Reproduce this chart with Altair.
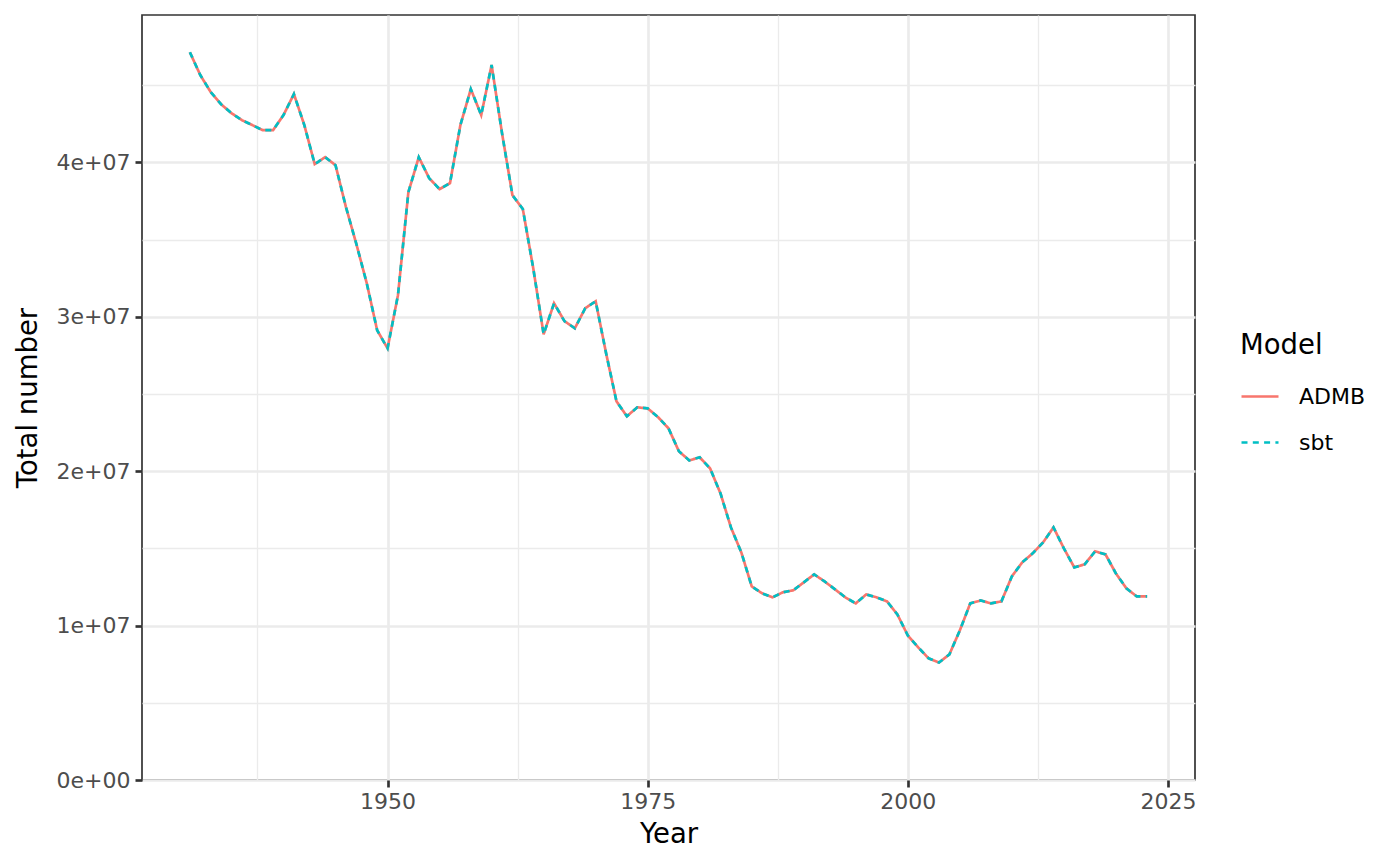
import altair as alt
import pandas as pd

years = list(range(1931, 2024))
# Total number (millions)
admb_millions = [
    47.14, 45.66, 44.56, 43.77, 43.19, 42.74, 42.42, 42.09, 42.09, 43.07,  # 1931-1940
    44.43, 42.42, 39.89, 40.34, 39.82, 37.11, 34.72, 32.18, 29.13, 27.96,  # 1941-1950
    31.40, 38.07, 40.34, 38.98, 38.27, 38.66, 42.42, 44.75, 43.07, 46.31,  # 1951-1960
    41.90, 37.88, 36.98, 33.15, 28.87, 30.88, 29.72, 29.26, 30.56, 31.01,  # 1961-1970
    27.65, 24.53, 23.56, 24.14, 24.07, 23.50, 22.78, 21.29, 20.70, 20.90,  # 1971-1980
    20.18, 18.56, 16.36, 14.74, 12.54, 12.09, 11.83, 12.16, 12.29, 12.80,  # 1981-1990
    13.32, 12.86, 12.35, 11.83, 11.44, 12.02, 11.83, 11.57, 10.72, 9.36,   # 1991-2000
    8.59, 7.88, 7.61, 8.14, 9.69, 11.44, 11.63, 11.44, 11.57, 13.19,       # 2001-2010
    14.10, 14.68, 15.39, 16.36, 15.00, 13.77, 13.97, 14.81, 14.61, 13.38,  # 2011-2020
    12.42, 11.89, 11.89,                                                   # 2021-2023
]
sbt_millions = admb_millions  # the two models coincide in the picture

models = ["ADMB", "sbt"]
colors = ["#F8766D", "#00BFC4"]
dashes = [[1, 0], [6, 5.3]]

x_ticks = [1937.5, 1950, 1962.5, 1975, 1987.5, 2000, 2012.5, 2025]
y_ticks = [0, 5e6, 1e7, 1.5e7, 2e7, 2.5e7, 3e7, 3.5e7, 4e7, 4.5e7]

rows = []
for m, series in zip(models, [admb_millions, sbt_millions]):
    for yr, v in zip(years, series):
        rows.append({"Year": yr, "Total": v * 1e6, "Model": m})
df = pd.DataFrame(rows)

FONT = "DejaVu Sans"

x_axis = alt.Axis(
    values=x_ticks,
    labelExpr="datum.value % 25 === 0 ? format(datum.value, 'd') : ''",
    grid=True,
    gridColor="#EBEBEB",
    gridWidth={"condition": {"test": "datum.value % 25 !== 0", "value": 1.33}, "value": 2.67},
    tickOpacity={"condition": {"test": "datum.value % 25 !== 0", "value": 0}, "value": 1},
    domain=False,
    ticks=True,
    tickColor="#333333",
    tickWidth=2.67,
    tickSize=7,
    labelFont=FONT,
    labelFontSize=22,
    labelColor="#4D4D4D",
    labelPadding=4,
    labelFlush=False,
    title="Year",
    titleFont=FONT,
    titleFontSize=27.5,
    titleFontWeight="normal",
    titleColor="#000000",
    titlePadding=8,
)

y_axis = alt.Axis(
    values=y_ticks,
    labelExpr="datum.value % 10000000 === 0 ? replace(format(datum.value, '.0e'), 'e+', 'e+0') : ''",
    grid=True,
    gridColor="#EBEBEB",
    gridWidth={"condition": {"test": "datum.value % 10000000 !== 0", "value": 1.33}, "value": 2.67},
    tickOpacity={"condition": {"test": "datum.value % 10000000 !== 0", "value": 0}, "value": 1},
    domain=False,
    ticks=True,
    tickColor="#333333",
    tickWidth=2.67,
    tickSize=7,
    labelFont=FONT,
    labelFontSize=22,
    labelColor="#4D4D4D",
    labelPadding=5,
    labelFlush=False,
    title="Total number",
    titleFont=FONT,
    titleFontSize=27.5,
    titleFontWeight="normal",
    titleColor="#000000",
    titlePadding=14,
)

chart = (
    alt.Chart(df)
    .mark_line(strokeWidth=2.67)
    .encode(
        x=alt.X("Year:Q", scale=alt.Scale(domain=[1926.4, 2027.6], nice=False, zero=False), axis=x_axis),
        y=alt.Y("Total:Q", scale=alt.Scale(domain=[0, 49.55e6], nice=False), axis=y_axis),
        color=alt.Color("Model:N", scale=alt.Scale(domain=models, range=colors), title="Model"),
        strokeDash=alt.StrokeDash("Model:N", scale=alt.Scale(domain=models, range=dashes), title="Model"),
        order=alt.Order("Model:N"),
    )
    .properties(
        width=1053,
        height=765,
        autosize=alt.AutoSizeParams(type="none"),
        padding={"left": 134, "top": 7, "right": 190, "bottom": 70},
    )
    .configure_view(stroke="#333333", strokeWidth=1.7)
    .configure_legend(
        orient="none",
        legendX=1098,
        legendY=317,
        titleFont=FONT,
        titleFontSize=27.5,
        titleFontWeight="normal",
        titleColor="#000000",
        titlePadding=17,
        labelFont=FONT,
        labelFontSize=22,
        labelColor="#000000",
        labelOffset=19,
        symbolType="stroke",
        symbolSize=1369,
        symbolStrokeWidth=2.67,
        rowPadding=15,
        padding=0,
    )
)

chart.save("out.html", embed_options={"renderer": "svg", "actions": False})
